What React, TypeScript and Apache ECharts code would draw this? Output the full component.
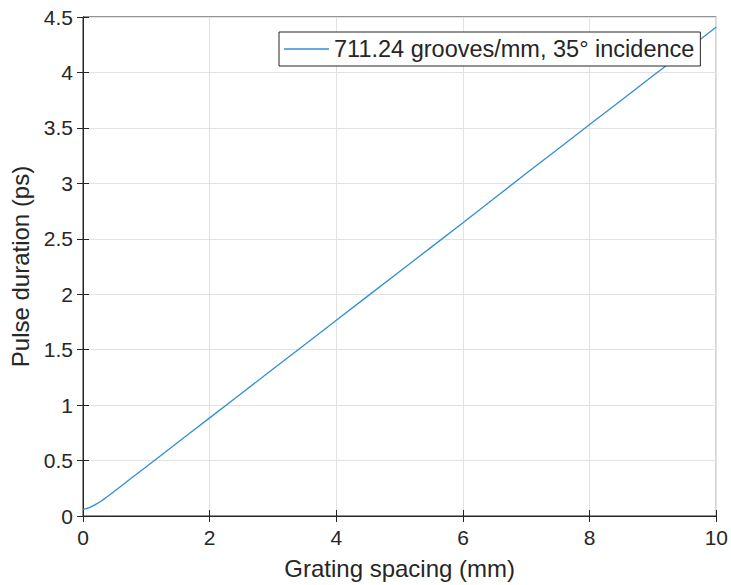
import React, { useEffect, useRef } from "react";
import * as echarts from "echarts";

const spacingMm = [0, 0.1, 0.2, 0.3, 0.5, 0.75, 1, 1.5, 2, 3, 4, 5, 6, 7, 8, 9, 10];
const pulsePs = [0.06, 0.075, 0.105, 0.14, 0.225, 0.335, 0.445, 0.665, 0.885, 1.325, 1.765, 2.205, 2.645, 3.09, 3.53, 3.97, 4.41];
const seriesName = "711.24 grooves/mm, 35° incidence";
const xTitle = "Grating spacing (mm)";
const yTitle = "Pulse duration (ps)";

const FONT = "'Liberation Sans', Arial, Helvetica, sans-serif";
const TXT = "#262626";

export default function App() {
  const ref = useRef<HTMLDivElement>(null);
  useEffect(() => {
    const chart = echarts.init(ref.current!, null, { renderer: "svg" });
    const axisCommon = {
      axisLine: { show: true, lineStyle: { color: TXT, width: 1 } },
      axisTick: { show: true, inside: true, length: 6, lineStyle: { color: TXT } },
    };
    chart.setOption({
      animation: false,
      backgroundColor: "#ffffff",
      textStyle: { fontFamily: FONT },
      grid: { left: 83, right: 14, top: 17, bottom: 69, show: true, borderColor: TXT, borderWidth: 1 },
      legend: {
        show: true,
        left: 279,
        top: 32,
        padding: [5, 6, 5, 5],
        backgroundColor: "#ffffff",
        borderColor: TXT,
        borderWidth: 1,
        borderRadius: 0,
        icon: "rect",
        itemWidth: 45,
        itemHeight: 1.5,
        itemGap: 4,
        textStyle: { color: TXT, fontSize: 23.5, fontFamily: FONT, padding: [0, 0, 0, 0] },
        data: [seriesName],
      },
      xAxis: [
        {
          type: "value",
          min: 0,
          max: 10,
          interval: 2,
          ...axisCommon,
          axisLabel: { color: TXT, fontSize: 21, fontFamily: FONT, margin: 11 },
          splitLine: { show: true, lineStyle: { color: "#e2e2e2", width: 1 } },
          name: xTitle,
          nameLocation: "middle",
          nameGap: 40,
          nameTextStyle: { color: TXT, fontSize: 24, fontFamily: FONT },
        },
        {
          type: "value",
          position: "top",
          min: 0,
          max: 10,
          interval: 2,
          ...axisCommon,
          axisLabel: { show: false },
          splitLine: { show: false },
        },
      ],
      yAxis: [
        {
          type: "value",
          min: 0,
          max: 4.5,
          interval: 0.5,
          ...axisCommon,
          axisLabel: { color: TXT, fontSize: 21, fontFamily: FONT, margin: 10 },
          splitLine: { show: true, lineStyle: { color: "#e2e2e2", width: 1 } },
          name: yTitle,
          nameLocation: "middle",
          nameGap: 46,
          nameTextStyle: { color: TXT, fontSize: 24, fontFamily: FONT },
        },
        {
          type: "value",
          position: "right",
          min: 0,
          max: 4.5,
          interval: 0.5,
          ...axisCommon,
          axisLabel: { show: false },
          splitLine: { show: false },
        },
      ],
      series: [
        {
          name: seriesName,
          type: "line",
          xAxisIndex: 0,
          yAxisIndex: 0,
          data: spacingMm.map((x, i) => [x, pulsePs[i]]),
          showSymbol: false,
          smooth: 0.3,
          lineStyle: { color: "#2f8fd6", width: 1.3 },
          itemStyle: { color: "#2f8fd6" },
        },
      ],
    });
    return () => chart.dispose();
  }, []);
  return (
    <div
      ref={ref}
      style={{ position: "fixed", left: 0, top: 0, width: 731, height: 585, background: "#fff" }}
    />
  );
}
